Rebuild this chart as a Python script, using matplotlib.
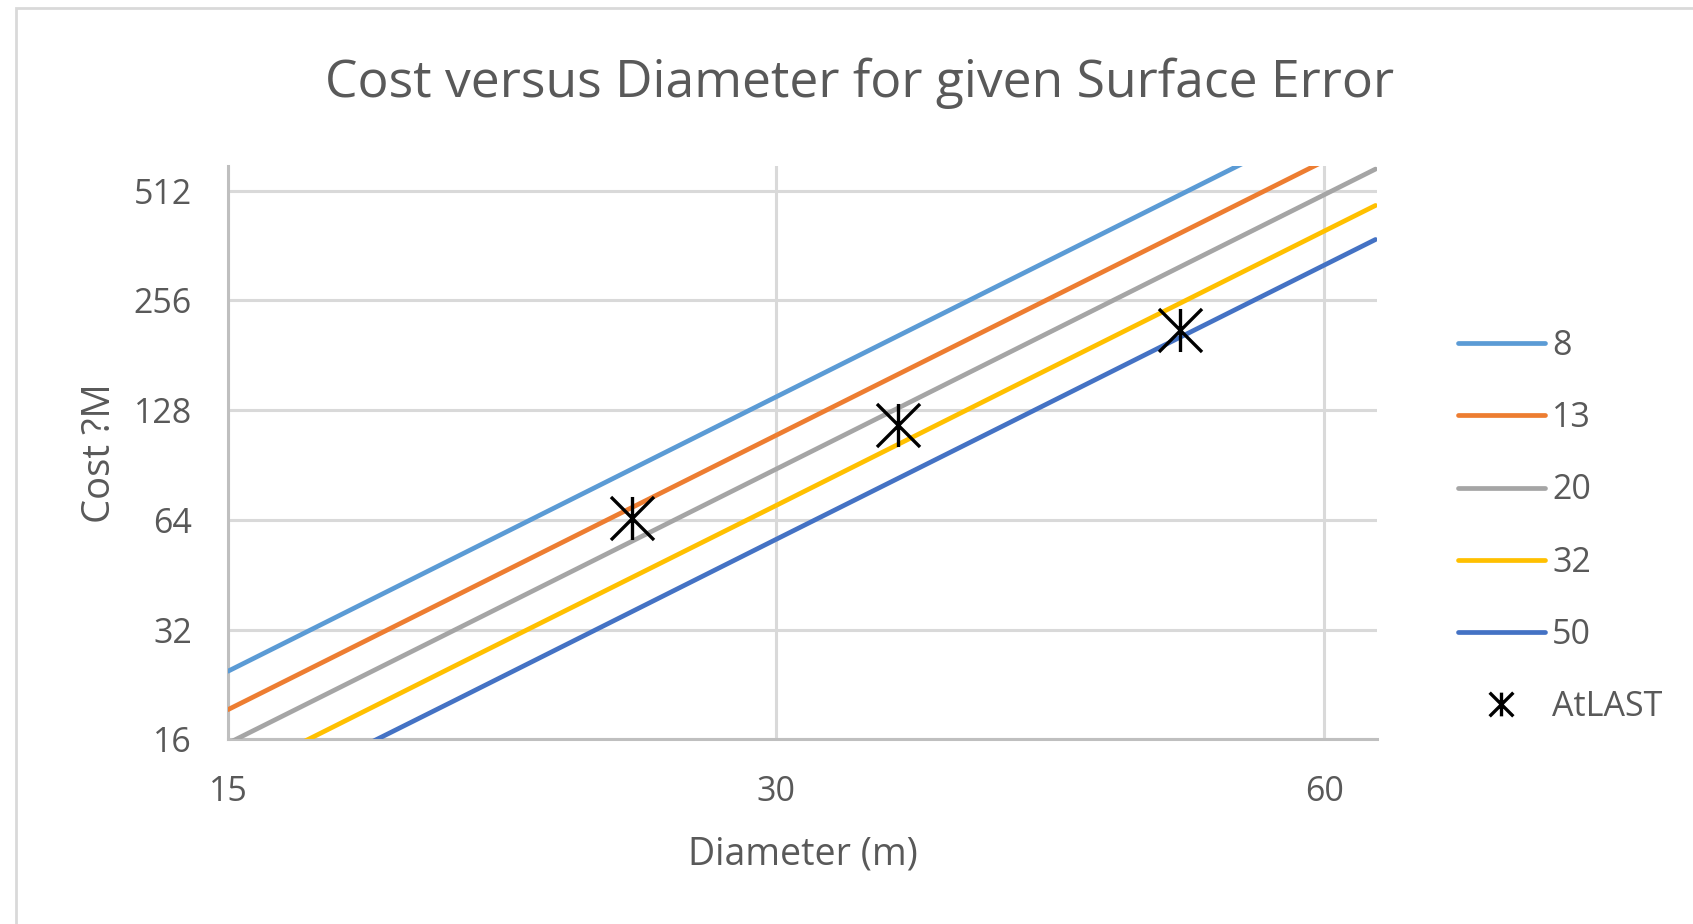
import matplotlib
matplotlib.use("Agg")
import matplotlib.pyplot as plt
from matplotlib.path import Path
from matplotlib.patches import Rectangle

plt.rcParams["font.family"] = ["Open Sans", "DejaVu Sans"]

# Diameter (m) sample points and cost (M) for each surface error (um)
diameters = [15, 20, 30, 40, 50, 60, 64]
cost_8 = [24.6, 50.5, 139.2, 285.7, 499.0, 787.2, 925.0]
cost_13 = [19.3, 39.6, 109.2, 224.1, 391.5, 617.6, 725.7]
cost_20 = [15.6, 32.0, 88.2, 181.1, 316.5, 499.2, 586.6]
cost_32 = [12.4, 25.5, 70.1, 144.0, 251.5, 396.8, 466.2]
cost_50 = [10.0, 20.5, 56.6, 116.1, 202.9, 320.0, 376.0]

atlast_d = [25, 35, 50]
atlast_cost = [64.6, 116.6, 212.0]

series_labels = ["8", "13", "20", "32", "50"]
series_colors = ["#5B9BD5", "#ED7D31", "#A5A5A5", "#FFC000", "#4472C4"]

x_ticks = [15, 30, 60]
y_ticks = [16, 32, 64, 128, 256, 512]

ink = "#595959"
grid = "#D9D9D9"

# Excel-style star: X with a vertical bar
star = Path([(0, -1), (0, 1), (-1, -1), (1, 1), (-1, 1), (1, -1)],
            [Path.MOVETO, Path.LINETO, Path.MOVETO, Path.LINETO,
             Path.MOVETO, Path.LINETO])

fig = plt.figure(figsize=(16.93, 9.24), dpi=100)
ax = fig.add_axes([0.1347, 0.1999, 0.8132 - 0.1347, 0.8203 - 0.1999])

for vals, lab, col in zip([cost_8, cost_13, cost_20, cost_32, cost_50],
                          series_labels, series_colors):
    ax.plot(diameters, vals, color=col, lw=3.4, label=lab,
            solid_capstyle="round", zorder=3)

ax.plot(atlast_d, atlast_cost, linestyle="none", marker=star, ms=31,
        mec="black", mfc="none", mew=2.4, label="AtLAST", zorder=4)

ax.set_xscale("log", base=2)
ax.set_yscale("log", base=2)
ax.set_xlim(15, 64.1)
ax.set_ylim(16, 598)
ax.set_xticks(x_ticks)
ax.set_xticklabels([str(t) for t in x_ticks])
ax.set_yticks(y_ticks)
ax.set_yticklabels([str(t) for t in y_ticks])
ax.minorticks_off()

ax.grid(True, color=grid, lw=2.2, zorder=0)
ax.set_axisbelow(True)
for s in ("top", "right"):
    ax.spines[s].set_visible(False)
for s in ("left", "bottom"):
    ax.spines[s].set_color("#BFBFBF")
    ax.spines[s].set_linewidth(2.2)
ax.tick_params(length=0, labelsize=24.5, labelcolor=ink)
ax.tick_params(axis="y", pad=26)
ax.tick_params(axis="x", pad=25.5)

ax.set_xlabel("Diameter (m)", fontsize=27, color=ink, labelpad=19)
ax.set_ylabel("Cost ?M", fontsize=27.5, color=ink, labelpad=10.5)

fig.text(0.508, 1 - 97 / 924, "Cost versus Diameter for given Surface Error",
         ha="center", va="baseline", fontsize=37.2, color=ink)

leg = ax.legend(loc="center left", bbox_to_anchor=(1458 / 1693, 1 - 526.5 / 924),
                bbox_transform=fig.transFigure, frameon=False, fontsize=24.5,
                handlelength=2.55, handletextpad=0.22, labelspacing=1.12,
                borderpad=0, borderaxespad=0, markerscale=0.55)
for t in leg.get_texts():
    t.set_color(ink)

fig.patches.append(Rectangle((16 / 1693, -0.05), 1.1, 1.05 - 8 / 924,
                             transform=fig.transFigure, fill=False,
                             ec=grid, lw=2.0))

fig.savefig("out.png", dpi=100, facecolor="white")
